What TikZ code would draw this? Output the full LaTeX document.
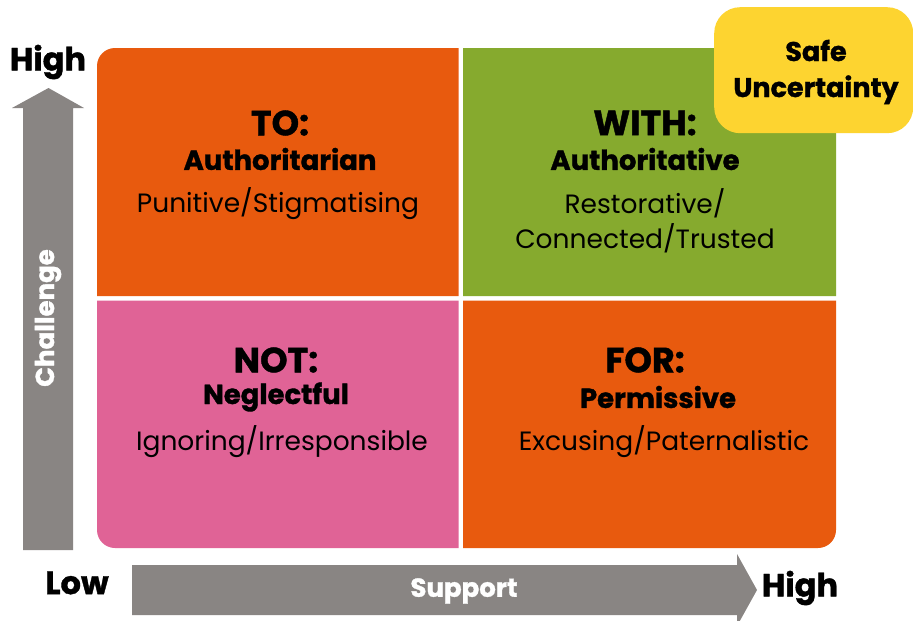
\documentclass[tikz,border=0pt]{standalone}
\usepackage{fontspec}
\setmainfont{Poppins}[BoldFeatures={FakeBold=1.2}]
\definecolor{qorange}{HTML}{E85A0E}
\definecolor{qgreen}{HTML}{86AA2E}
\definecolor{qpink}{HTML}{E06396}
\definecolor{qgray}{HTML}{898583}
\definecolor{qyellow}{HTML}{FDD430}
\begin{document}
\begin{tikzpicture}[x=1pt,y=-1pt,
  bigt/.style={font=\fontsize{35}{35}\selectfont\bfseries,text=black},
  midt/.style={font=\fontsize{27.5}{27.5}\selectfont\bfseries,text=black},
  regt/.style={font=\fontsize{26.5}{26.5}\selectfont,text=black},
  axt/.style={font=\fontsize{32}{32}\selectfont\bfseries,text=black},
  arrt/.style={font=\fontsize{26}{26}\selectfont\bfseries,text=white},
]
\useasboundingbox (0,0) rectangle (913,621);
\fill[white] (0,0) rectangle (913,621);
% quadrants
\path[fill=qorange] (97,296) -- (97,66) arc[start angle=180,end angle=270,radius=18] -- (458.5,48) -- (458.5,296) -- cycle;
\path[fill=qgreen] (463,48) -- (818,48) arc[start angle=-90,end angle=0,radius=18] -- (836,296) -- (463,296) -- cycle;
\path[fill=qpink] (97,300.5) -- (458.5,300.5) -- (458.5,548) -- (115,548) arc[start angle=90,end angle=180,radius=18] -- cycle;
\path[fill=qorange] (463,300.5) -- (836,300.5) -- (836,530) arc[start angle=0,end angle=90,radius=18] -- (463,548) -- cycle;
% safe uncertainty
\node[fill=qyellow,rounded corners=26pt,minimum width=199pt,minimum height=126pt,anchor=north west,inner sep=0pt] (safe) at (714,7) {};
\node[font=\fontsize{27}{27}\selectfont\bfseries,align=center] (safet) at (816,72) {Safe\\[9pt]Uncertainty};
% arrows
\fill[qgray] (23,550) -- (23,108) -- (12,108) -- (48.5,88) -- (84,108) -- (73,108) -- (73,550) -- cycle;
\fill[qgray] (132,565) -- (737,565) -- (737,554) -- (757,590) -- (737,626) -- (737,615) -- (132,615) -- cycle;
\node[arrt,rotate=90] (chalt) at (48,318) {Challenge};
\node[arrt] (suppt) at (464,591) {Support};
\node[axt] (hi1) at (48,62) {High};
\node[axt] (lo) at (77,583) {Low};
\node[axt] (hi2) at (800,588) {High};
% text
\node[bigt] (to) at (280,123) {TO:};
\node[midt] (to2) at (280,159) {Authoritarian};
\node[regt] (to3) at (278,204) {Punitive/Stigmatising};
\node[bigt] (with) at (645,123) {WITH:};
\node[midt] (with2) at (645,159) {Authoritative};
\node[regt,align=center] (with3) at (645,221) {Restorative/\\[5pt]Connected/Trusted};
\node[bigt] (not) at (276,360) {NOT:};
\node[midt] (not2) at (276,397) {Neglectful};
\node[regt] (not3) at (282,442) {Ignoring/Irresponsible};
\node[bigt] (for) at (645,360) {FOR:};
\node[midt] (for2) at (658,397) {Permissive};
\node[regt] (for3) at (664,442) {Excusing/Paternalistic};
\end{tikzpicture}
\end{document}
